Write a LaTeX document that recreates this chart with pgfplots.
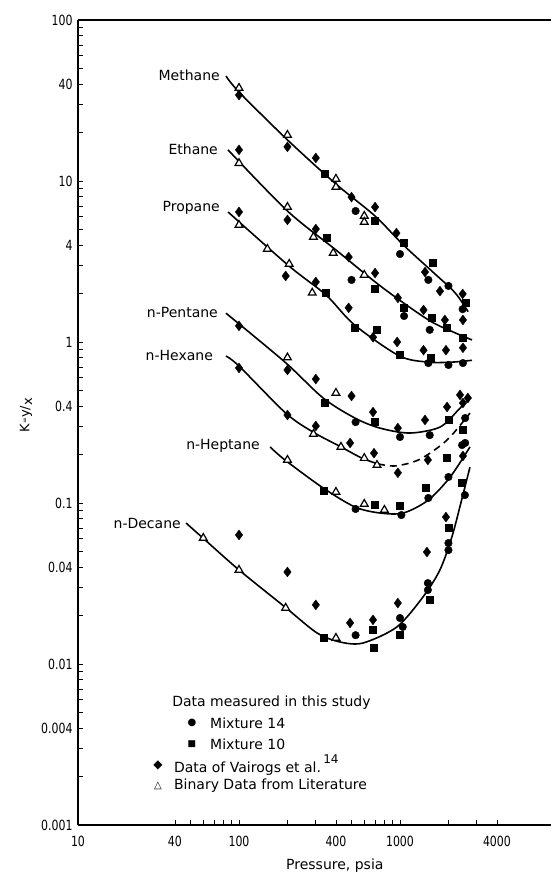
\documentclass[border=0pt]{standalone}
\usepackage{fontspec}
\setmainfont{DejaVu Sans}
\usepackage{graphicx}
\usepackage{pgfplots}
\pgfplotsset{compat=1.18}
\newcommand\tl[1]{\scalebox{0.78}[1]{#1}}
\newcommand\lbl{\fontsize{14}{16}\selectfont}
\begin{document}
\begin{tikzpicture}
\useasboundingbox (-78pt,-49pt) rectangle (473pt,825pt);
\begin{axis}[
  at={(0pt,0pt)}, anchor=south west,
  scale only axis, width=473pt, height=805pt,
  xmode=log, ymode=log,
  xmin=10, xmax=8670, ymin=0.001, ymax=100,
  axis x line*=box, axis y line*=left,
  axis line style={line width=1.6pt},
  tick pos=left, tick align=inside,
  xtick={10,40,100,400,1000,4000},
  xticklabels={\tl{10},\tl{40},\tl{100},\tl{400},\tl{1000},\tl{4000}},
  minor xtick={50,60,70,80,90,200,300,500,600,700,800,900,2000,3000},
  ytick={0.001,0.004,0.01,0.04,0.1,0.4,1,4,10,40,100},
  yticklabels={\tl{0.001},\tl{0.004},\tl{0.01},\tl{0.04},\tl{0.1},\tl{0.4},\tl{1},\tl{4},\tl{10},\tl{40},\tl{100}},
  minor ytick={0.002,0.003,0.005,0.006,0.007,0.008,0.009,
               0.02,0.03,0.05,0.06,0.07,0.08,0.09,
               0.2,0.3,0.5,0.6,0.7,0.8,0.9,
               2,3,5,6,7,8,9,20,30,50,60,70,80,90},
  major tick length=5pt, minor tick length=5pt,
  tick style={black, line width=0.8pt},
  ticklabel style={font=\lbl},
  xticklabel style={yshift=-8pt},
  yticklabel style={xshift=-2pt},
  xlabel={Pressure, psia},
  ylabel={K\raisebox{0.3ex}{\scriptsize =}y/\raisebox{-0.4ex}{x}},
  xlabel style={at={(axis description cs:0.543,0)}, anchor=center, yshift=-41pt, font=\lbl},
  ylabel style={at={(axis description cs:0,0.509)}, anchor=center, rotate=0, yshift=52pt, font=\fontsize{13}{15}\selectfont},
  clip=false,
]
% ---------- curves ----------
\addplot[black, line width=1.6pt, smooth, no marks] coordinates {% Methane
 (83,44.9) (100,35.7) (200,18.0) (400,9.58) (700,6.06) (1050,4.0) (1600,2.72) (2200,2.02) (2650,1.54)};
\addplot[black, line width=1.6pt, smooth, no marks] coordinates {% Ethane
 (85.5,15.6) (200,6.51) (400,3.73) (690,2.39) (1050,1.75) (1580,1.33) (2200,1.14) (2800,1.03)};
\addplot[black, line width=1.6pt, smooth, no marks] coordinates {% Propane
 (85.5,6.42) (205,2.96) (347,1.96) (520,1.28) (990,0.82) (1500,0.75) (2100,0.75) (2800,0.77)};
\addplot[black, line width=1.6pt, smooth, no marks] coordinates {% n-Pentane
 (83,1.51) (193,0.75) (333,0.449) (525,0.337) (750,0.292) (1150,0.272) (1770,0.296) (2300,0.378) (2720,0.455)};
\addplot[black, line width=1.6pt, smooth, no marks] coordinates {% n-Hexane (solid)
 (83,0.818) (100,0.709) (195,0.362) (288,0.276) (430,0.223) (580,0.190) (730,0.175)};
\addplot[black, line width=1.6pt, smooth, no marks, dash pattern=on 7pt off 5pt] coordinates {% n-Hexane (dashed)
 (730,0.175) (940,0.17) (1330,0.187) (1960,0.246) (2720,0.362)};
\addplot[black, line width=1.6pt, smooth, no marks] coordinates {% n-Heptane
 (156,0.223) (193,0.185) (333,0.124) (525,0.0945) (750,0.0867) (1050,0.0867) (1500,0.1043) (2050,0.145) (2720,0.223)};
\addplot[black, line width=1.6pt, smooth, no marks] coordinates {% n-Decane
 (46.9,0.0751) (59.7,0.0606) (100,0.0384) (196,0.0223) (305,0.0156) (424,0.0137) (589,0.0135) (957,0.017) (1390,0.0261) (1770,0.0384) (2100,0.0615) (2430,0.107) (2720,0.167)};
% ---------- Data of Vairogs et al. (diamonds) ----------
\addplot[only marks, mark=diamond*, mark size=5pt, mark options={fill=black, draw=black, line width=0.3pt}] coordinates {
 (100,34.2) (200,16.3) (300,13.9) (500,7.95) (700,6.89) (950,4.75) (1430,2.72) (1770,2.07) (2450,1.99)
 (100,15.6) (200,5.73) (300,5.03) (480,3.37) (700,2.68) (970,1.88) (1400,1.58) (1900,1.37) (2460,1.37)
 (100,6.42) (195,2.57) (300,2.36) (480,1.63) (680,1.07) (960,1.00) (1400,0.89) (1930,0.89) (2460,0.92)
 (100,1.26) (200,0.67) (300,0.589) (500,0.462) (680,0.367) (970,0.292) (1430,0.328) (1960,0.395) (2360,0.469) (2460,0.418) (2640,0.449)
 (100,0.69) (200,0.352) (300,0.301) (490,0.236) (690,0.204) (970,0.154) (1490,0.185)
 (2460,0.196)
 (100,0.0633) (200,0.0373) (300,0.0233) (490,0.018) (680,0.0188) (970,0.0239) (1470,0.0496) (1930,0.0818)};
% ---------- Mixture 14 (circles) ----------
\addplot[only marks, mark=*, mark size=3.8pt, mark options={fill=black, draw=black}] coordinates {
 (530,6.51) (1000,3.52) (1500,2.43) (2000,2.23) (2450,1.60)
 (500,2.43) (1060,1.45) (1530,1.19)
 (1500,0.74) (2000,0.72) (2460,0.74)
 (530,0.318) (1000,0.257) (1530,0.264)
 (2430,0.229) (2540,0.337)
 (530,0.0918) (1020,0.0842) (1500,0.1074) (2000,0.145) (2540,0.236)
 (530,0.0151) (1000,0.0193) (1040,0.0170) (1490,0.0318) (1490,0.0288) (2000,0.0564) (2000,0.0510) (2530,0.112)};
% ---------- Mixture 10 (squares) ----------
\addplot[only marks, mark=square*, mark size=3.5pt, mark options={fill=black, draw=black}] coordinates {
 (340,11.1) (700,5.64) (1050,4.12) (1600,3.09) (2550,1.75)
 (350,4.43) (700,2.13) (1050,1.63) (1580,1.41) (1960,1.22) (2460,1.07)
 (347,2.02) (520,1.22) (720,1.20) (990,0.83) (1560,0.80)
 (340,0.418) (700,0.318) (2000,0.328)
 (1960,0.190) (2460,0.284)
 (335,0.120) (700,0.0972) (1000,0.0958) (1450,0.124)
 (335,0.0145) (680,0.0163) (690,0.0126) (1000,0.0151) (1530,0.025) (2000,0.0699) (2430,0.133)};
% ---------- Binary data from literature (open triangles) ----------
\addplot[only marks, mark=triangle*, mark size=4.5pt, mark options={fill=white, draw=black, line width=1.2pt}] coordinates {
 (100,37.8) (200,19.3) (400,10.3) (400,9.18) (600,6.06) (600,5.56)
 (100,12.9) (200,6.89) (290,4.49) (385,3.57) (600,2.61)
 (100,5.33) (150,3.78) (205,3.05) (285,2.02)
 (200,0.80) (400,0.482)
 (290,0.268) (430,0.223) (600,0.190) (720,0.172)
 (200,0.185) (400,0.117) (600,0.0986) (800,0.0905)
 (60,0.0606) (100,0.0384) (195,0.0223) (400,0.0145)};
% ---------- curve labels ----------
\node[anchor=east, inner sep=0pt, font=\lbl] at (axis cs:76.2,45.5) {Methane};
\node[anchor=east, inner sep=0pt, font=\lbl] at (axis cs:74.1,15.8) {Ethane};
\node[anchor=east, inner sep=0pt, font=\lbl] at (axis cs:76.2,6.80) {Propane};
\node[anchor=east, inner sep=0pt, font=\lbl] at (axis cs:74.1,1.535) {n-Pentane};
\node[anchor=east, inner sep=0pt, font=\lbl] at (axis cs:69.0,0.830) {n-Hexane};
\node[anchor=east, inner sep=0pt, font=\lbl] at (axis cs:135,0.226) {n-Heptane};
\node[anchor=east, inner sep=0pt, font=\lbl] at (axis cs:43.6,0.0751) {n-Decane};
% ---------- legend ----------
\node[anchor=west, inner sep=0pt, font=\lbl] at (axis cs:38.4,0.00572) {Data measured in this study};
\node[inner sep=0pt, font=\fontsize{10}{10}\selectfont] at (axis cs:51.0,0.0043) {●};
\node[anchor=west, inner sep=0pt, font=\lbl] at (axis cs:66.1,0.0043) {Mixture 14};
\node[inner sep=0pt, font=\fontsize{9}{9}\selectfont] at (axis cs:51.0,0.00318) {■};
\node[anchor=west, inner sep=0pt, font=\lbl] at (axis cs:66.1,0.00318) {Mixture 10};
\node[inner sep=0pt, font=\fontsize{12}{12}\selectfont] at (axis cs:31.4,0.00236) {◆};
\node[anchor=west, inner sep=0pt, font=\lbl] at (axis cs:39.4,0.00236) {Data of Vairogs et al.\,\raisebox{1.1ex}{\fontsize{12}{12}\selectfont 14}};
\node[inner sep=0pt, font=\fontsize{10}{10}\selectfont] at (axis cs:31.4,0.00175) {△};
\node[anchor=west, inner sep=0pt, font=\lbl] at (axis cs:39.4,0.00175) {Binary Data from Literature};
\end{axis}
\end{tikzpicture}
\end{document}
